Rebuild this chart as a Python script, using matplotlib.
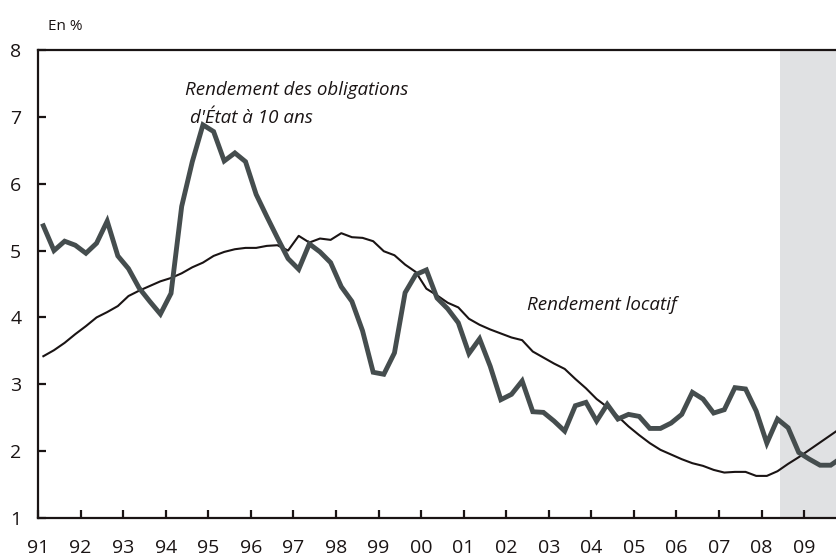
import matplotlib.pyplot as plt
import numpy as np

plt.rcParams['font.family'] = ['Open Sans', 'DejaVu Sans']

# quarterly data, 1991Q1 .. 2009Q4
start_year = 1991
years = list(range(1991, 2010))
year_labels = ['91', '92', '93', '94', '95', '96', '97', '98', '99', '00',
               '01', '02', '03', '04', '05', '06', '07', '08', '09']

oblig = [5.37, 5.00, 5.14, 5.08,
         4.96, 5.11, 5.44, 4.92,
         4.73, 4.44, 4.24, 4.05,
         4.36, 5.66, 6.33, 6.88,
         6.78, 6.34, 6.46, 6.33,
         5.84, 5.51, 5.19, 4.88,
         4.72, 5.10, 4.98, 4.82,
         4.46, 4.24, 3.80, 3.18,
         3.15, 3.47, 4.37, 4.64,
         4.71, 4.29, 4.13, 3.92,
         3.46, 3.68, 3.27, 2.77,
         2.85, 3.05, 2.59, 2.58,
         2.45, 2.30, 2.68, 2.73,
         2.45, 2.70, 2.48, 2.55,
         2.52, 2.34, 2.34, 2.42,
         2.55, 2.88, 2.78, 2.57,
         2.62, 2.95, 2.93, 2.60,
         2.12, 2.48, 2.35, 1.98,
         1.88, 1.79, 1.79, 1.90]

locatif = [3.42, 3.51, 3.62, 3.75,
           3.87, 4.00, 4.08, 4.17,
           4.32, 4.40, 4.47, 4.54,
           4.59, 4.66, 4.75, 4.82,
           4.92, 4.98, 5.02, 5.04,
           5.04, 5.07, 5.08, 5.00,
           5.22, 5.12, 5.18, 5.16,
           5.26, 5.20, 5.19, 5.14,
           4.99, 4.93, 4.79, 4.68,
           4.43, 4.33, 4.22, 4.15,
           3.98, 3.89, 3.82, 3.76,
           3.70, 3.66, 3.49, 3.40,
           3.31, 3.23, 3.08, 2.94,
           2.78, 2.66, 2.52, 2.37,
           2.24, 2.12, 2.02, 1.95,
           1.88, 1.82, 1.78, 1.72,
           1.68, 1.69, 1.69, 1.63,
           1.63, 1.70, 1.81, 1.91,
           2.02, 2.13, 2.24, 2.35]

shade_start = 2008.44

t = start_year + (np.arange(len(oblig)) + 0.5) / 4

fig = plt.figure(figsize=(8.36, 5.59), dpi=100)
ax = fig.add_axes([0.0455, 0.0733, 0.9545, 0.8373])

ax.axvspan(shade_start, 2012, color='#e0e1e3', lw=0, zorder=0)
ax.plot(t, locatif, color='#1a1414', lw=1.5, zorder=2)
ax.plot(t, oblig, color='#454d4e', lw=3.5, zorder=3, solid_joinstyle='miter')

ax.set_xlim(1991, 2009.75)
ax.set_ylim(1, 8)
ax.set_xticks(years)
ax.set_xticklabels(year_labels)
ax.set_yticks(range(1, 9))

for s in ['left', 'bottom', 'top']:
    ax.spines[s].set_color('#1a1414')
    ax.spines[s].set_linewidth(1.6)
ax.spines['right'].set_visible(False)

ax.tick_params(axis='both', direction='in', length=6, width=1.6,
               color='#1a1414', labelsize=14, labelcolor='#1a1414')
ax.tick_params(axis='x', pad=15)
ax.tick_params(axis='y', pad=12)

fig.text(0.058, 0.952, 'En %', fontsize=11, color='#1a1414', va='center')

ax.text(1994.45, 7.40, 'Rendement des obligations', fontsize=13.5,
        style='italic', color='#1a1414', ha='left', va='center')
ax.text(1994.57, 6.99, "d'État à 10 ans", fontsize=13.5,
        style='italic', color='#1a1414', ha='left', va='center')
ax.text(2002.5, 4.19, 'Rendement locatif', fontsize=13.5,
        style='italic', color='#1a1414', ha='left', va='center')

fig.savefig('out.png', dpi=100)
